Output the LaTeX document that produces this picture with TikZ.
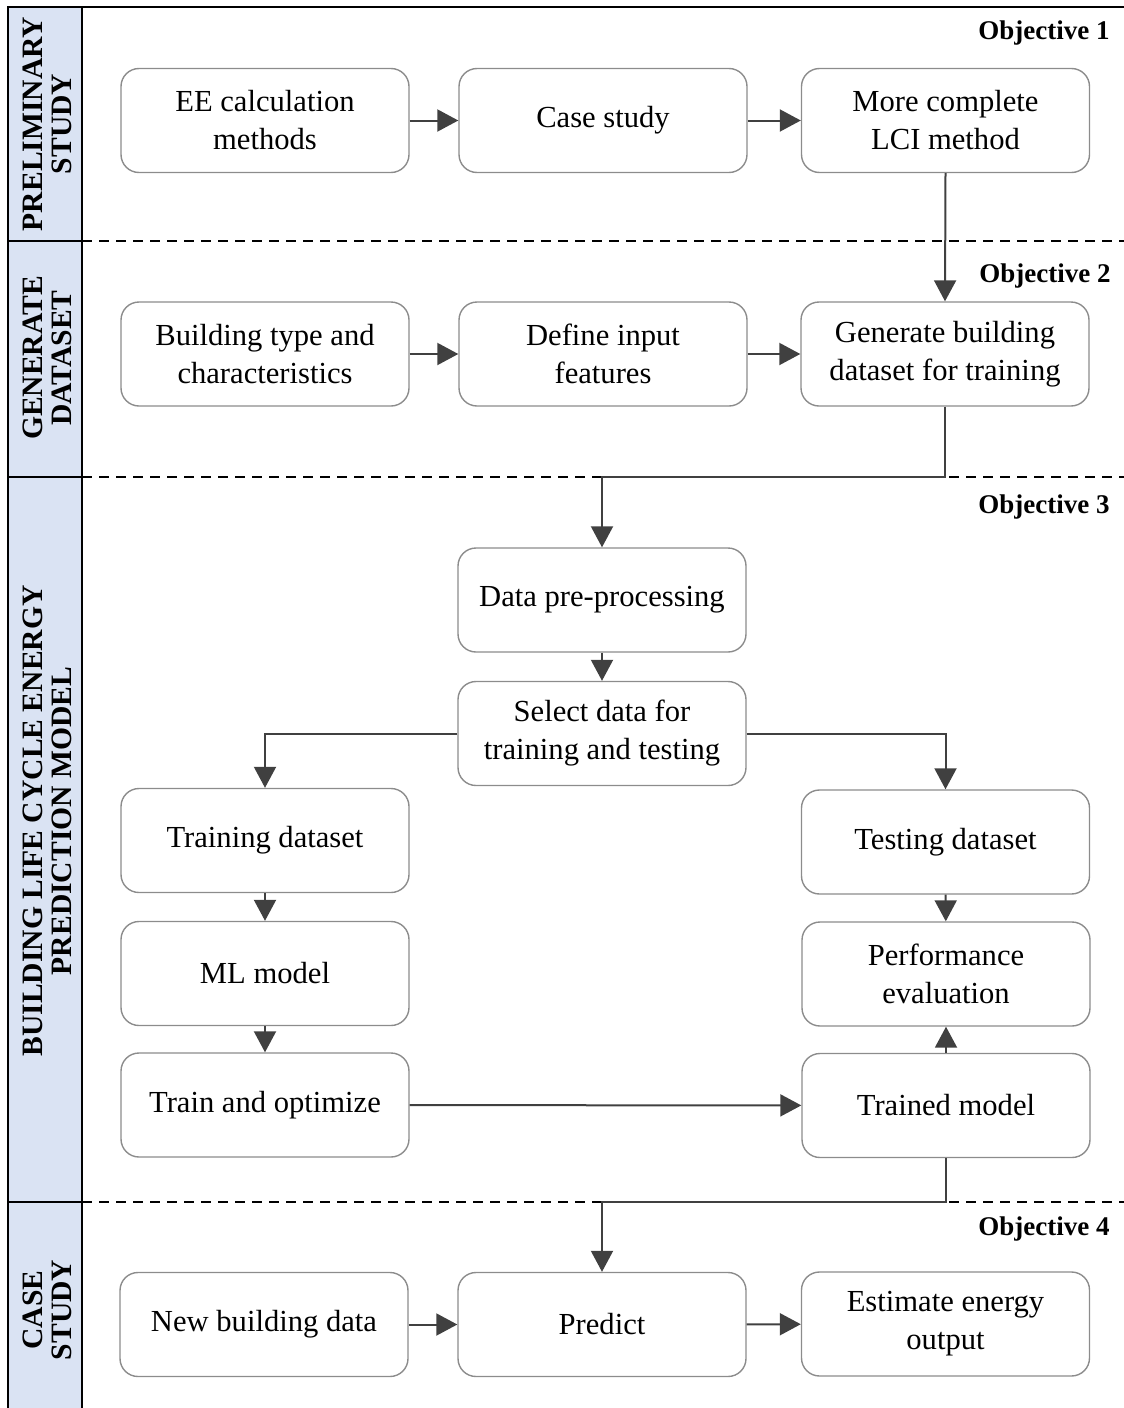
\documentclass[tikz,border=0pt]{standalone}
\usepackage{fontspec}
\setmainfont{Liberation Serif}
\usetikzlibrary{arrows.meta}
\definecolor{sidefill}{HTML}{DAE3F3}
\definecolor{arrowgray}{HTML}{404040}
\definecolor{boxgray}{HTML}{8C8C8C}
\begin{document}
\begin{tikzpicture}[x=0.5pt,y=-0.5pt,
  stepbox/.style={draw=boxgray,line width=0.7pt,rounded corners=9pt,
    minimum width=144pt,minimum height=52pt,align=center,
    font=\fontsize{15.3}{19}\selectfont,inner sep=2pt},
  arr/.style={draw=arrowgray,line width=1pt,
    -{Triangle[length=10.5pt,width=11pt]}},
  objlabel/.style={anchor=east,font=\fontsize{13.5}{15}\bfseries\selectfont,inner sep=0pt},
  sidelabel/.style={rotate=90,align=center,font=\fontsize{14.8}{14.5}\bfseries\selectfont,inner sep=0pt},
  sep/.style={line width=1pt,dash pattern=on 5pt off 3.5pt}]
\useasboundingbox (0,0) rectangle (1124,1408);

% side bands
\draw[line width=1pt,fill=sidefill] (8,7) rectangle (82,241);
\draw[line width=1pt,fill=sidefill] (8,241) rectangle (82,477);
\draw[line width=1pt,fill=sidefill] (8,477) rectangle (82,1202);
\draw[line width=1pt,fill=sidefill] (8,1202) rectangle (82,1412);
\draw[line width=1pt] (82,7) -- (1124,7);

\node[sidelabel] (s1) at (47,124) {PRELIMINARY\\STUDY};
\node[sidelabel] (s2) at (47,358) {GENERATE\\DATASET};
\node[sidelabel] (s3) at (47,821) {BUILDING LIFE CYCLE ENERGY\\PREDICTION MODEL};
\node[sidelabel] (s4) at (47,1310) {CASE\\STUDY};

% stage separators
\draw[sep] (82,241) -- (1124,241);
\draw[sep] (82,477) -- (1124,477);
\draw[sep] (82,1202) -- (1124,1202);

% objective labels
\node[objlabel] (o1) at (1110,33) {Objective 1};
\node[objlabel] (o2) at (1111,276) {Objective 2};
\node[objlabel] (o3) at (1110,507) {Objective 3};
\node[objlabel] (o4) at (1110,1229) {Objective 4};

% stage 1
\node[stepbox] (ee) at (265,120.5) {EE calculation\\methods};
\node[stepbox] (cs) at (603,120.5) {Case study};
\node[stepbox] (lci) at (945.5,120.5) {More complete\\LCI method};

% stage 2
\node[stepbox] (bt) at (265,354) {Building type and\\characteristics};
\node[stepbox] (fi) at (603,354) {Define input\\features};
\node[stepbox] (gd) at (945,354) {Generate building\\dataset for training};

% stage 3
\node[stepbox] (pre) at (602,600) {Data pre-processing};
\node[stepbox] (sel) at (602,733.5) {Select data for\\training and testing};
\node[stepbox] (trd) at (265,840.5) {Training dataset};
\node[stepbox] (ml) at (265,973.5) {ML model};
\node[stepbox] (opt) at (265,1105) {Train and optimize};
\node[stepbox] (ted) at (945.5,842) {Testing dataset};
\node[stepbox] (perf) at (946,974) {Performance\\evaluation};
\node[stepbox] (tm) at (946,1105.5) {Trained model};

% stage 4
\node[stepbox] (nb) at (264,1324.5) {New building data};
\node[stepbox] (pred) at (602,1324.5) {Predict};
\node[stepbox] (est) at (945.5,1324) {Estimate energy\\output};

% junctions on the separators
\coordinate (j1) at (945,477);
\coordinate (j2) at (946,1202);

% connectors
\draw[arr] (ee) -- (cs);
\draw[arr] (cs) -- (lci);
\draw[arr] (lci.south) -- (gd.north);
\draw[arr] (bt) -- (fi);
\draw[arr] (fi) -- (gd);
\draw[arr] (gd.south) -- (j1) -| (pre.north);
\draw[arr] (pre) -- (sel);
\draw[arr] (sel.west) -| (trd.north);
\draw[arr] (sel.east) -| (ted.north);
\draw[arr] (trd) -- (ml);
\draw[arr] (ml) -- (opt);
\draw[arr] (opt) -- (tm);
\draw[arr] (ted) -- (perf);
\draw[arr] (tm) -- (perf);
\draw[arr] (tm.south) -- (j2) -| (pred.north);
\draw[arr] (nb) -- (pred);
\draw[arr] (pred) -- (est);
\end{tikzpicture}
\end{document}
